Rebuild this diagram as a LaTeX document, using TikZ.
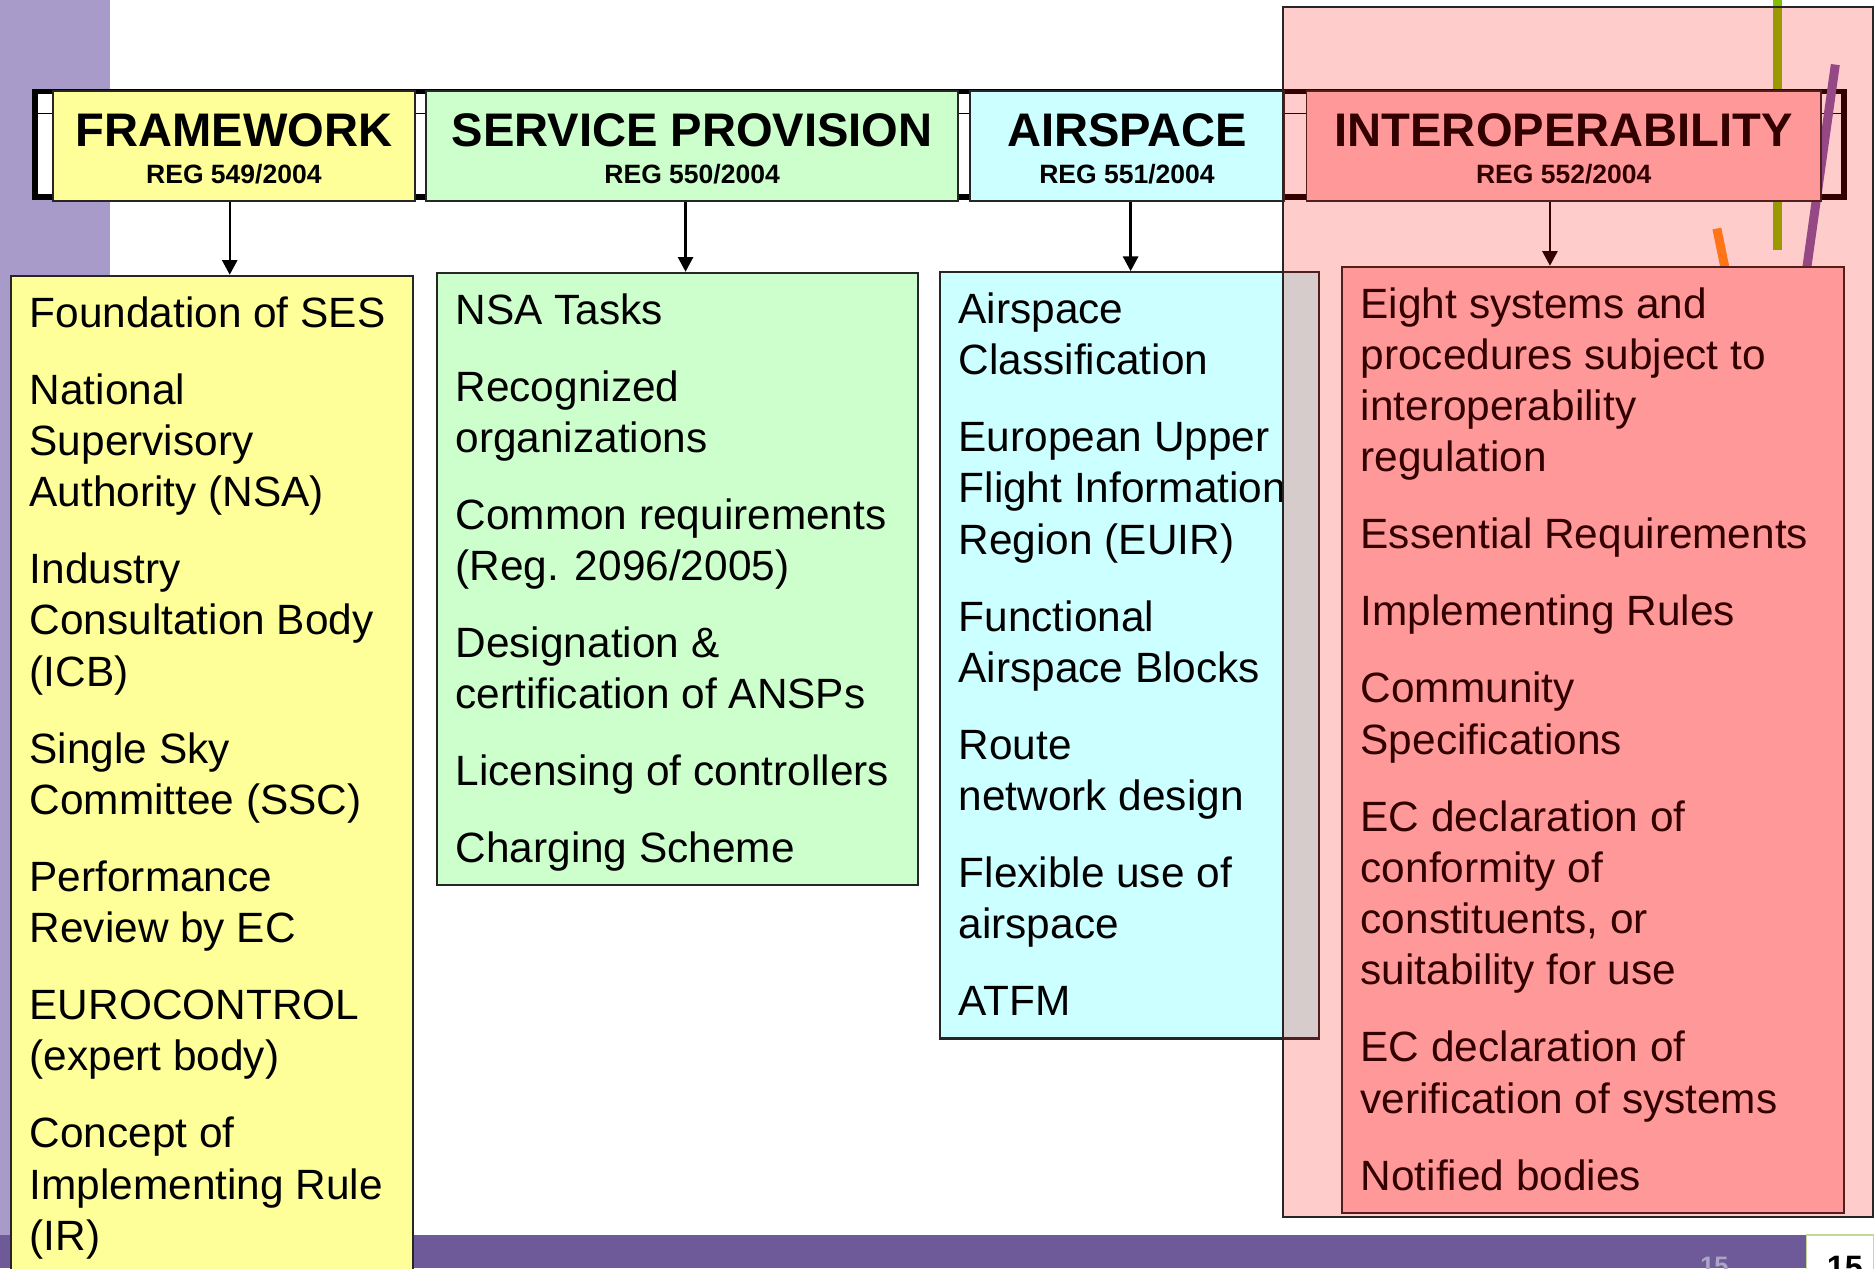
\documentclass[tikz,border=0pt]{standalone}
\usepackage{fontspec}
\setmainfont{Liberation Sans}
\usepackage{xcolor}
\usepackage{tikz}
\usetikzlibrary{arrows.meta,positioning,fit}
\definecolor{slidelilac}{HTML}{A99BC9}
\definecolor{slidebar}{HTML}{6F5A99}
\definecolor{barnumber}{HTML}{ABA6C4}
\definecolor{pageframe}{HTML}{C4D89A}
\definecolor{fwyellow}{HTML}{FFFF99}
\definecolor{spgreen}{HTML}{CCFFCC}
\definecolor{ascyan}{HTML}{CCFFFF}
\definecolor{iopink}{HTML}{FFC0C0}
\definecolor{accentgreen}{HTML}{84BE00}
\definecolor{accentpurple}{HTML}{7B5AA6}
\definecolor{accentorange}{HTML}{FF9020}
\newcommand{\regno}[1]{{\fontsize{6.3pt}{8.9pt}\selectfont #1}}
\newcommand{\itemgap}{\\[6.1pt]}
\tikzset{
  headbox/.style={
    draw=black!85,
    line width=0.45pt,
    inner sep=0pt
  },
  headtext/.style={
    anchor=north,
    inner xsep=0pt,
    inner ysep=0.19cm,
    align=center,
    font=\fontsize{11.2pt}{8.9pt}\selectfont\bfseries
  },
  listbox/.style={
    draw=black!85,
    line width=0.5pt,
    inner sep=0pt
  },
  items/.style={
    anchor=north west,
    align=left,
    inner xsep=0.16cm,
    inner ysep=0.13cm,
    font=\fontsize{10.07pt}{12.19pt}\selectfont
  },
  regframe/.style={
    draw=black,
    fill=white,
    line width=1.4pt,
    inner sep=0pt
  },
  ioshade/.style={
    draw=black!85,
    line width=0.45pt,
    fill=red,
    fill opacity=0.2,
    inner sep=0pt
  },
  accent/.style={line width=0.075cm},
  arrow/.style={-{Triangle[length=3.5pt,width=3.6pt]},line width=0.55pt,draw=black}
}

\begin{document}
\begin{tikzpicture}[x=0.01cm,y=-0.01cm]
  \useasboundingbox (0,0) rectangle (1568,1060);
  \fill[white] (0,0) rectangle (1568,1060);

  % slide background
  \fill[slidelilac] (0,0) rectangle (92,1032);
  \fill[slidebar] (0,1032) rectangle (1510,1060);
  \node[font=\fontsize{6pt}{7pt}\selectfont\bfseries,text=barnumber,anchor=base] (barNo) at (1433,1065) {15};
  \node[draw=pageframe,fill=white,line width=0.4pt,inner sep=0pt,fit={(1510,1032) (1566,1064)}] (pageBox) {};
  \node[font=\fontsize{7.7pt}{9pt}\selectfont\bfseries,anchor=base] (pageNo) at (1542,1069) {15};

  \draw[accent,accentgreen] (1486,-2) -- (1486,209);
  \draw[accent,accentorange] (1435,191) -- (1442,225);

  \node[regframe,fit={(29.5,76.5) (1541.5,164.5)}] (regFrame) {};
  \draw[line width=0.3pt] (31,95) -- (1539,95);
  \draw[accent,accentpurple] (1534,54) -- (1510,225);

  \node[headbox,fill=fwyellow,fit={(44,76) (347,168)}] (fwHead) {};
  \node[headbox,fill=spgreen,fit={(356,76) (801,168)}] (spHead) {};
  \node[headbox,fill=ascyan,fit={(811,76) (1073,168)}] (asHead) {};
  \node[headbox,fill=iopink,fit={(1092,76) (1522,168)}] (ioHead) {};
  \node[headtext] (fwTitle) at (fwHead.north) {FRAMEWORK\\\regno{REG 549/2004}};
  \node[headtext] (spTitle) at (spHead.north) {SERVICE PROVISION\\\regno{REG 550/2004}};
  \node[headtext] (asTitle) at (asHead.north) {AIRSPACE\\\regno{REG 551/2004}};
  \node[headtext] (ioTitle) at (ioHead.north) {INTEROPERABILITY\\\regno{REG 552/2004}};

  \node[listbox,fill=fwyellow,fit={(9,230.5) (345,1080)}] (fwBody) {};
  \node[items] (fwList) at (fwBody.north west) {
    \strut Foundation of SES\itemgap
    National\\Supervisory\\Authority (NSA)\itemgap
    Industry\\Consultation Body\\(ICB)\itemgap
    Single Sky\\Committee (SSC)\itemgap
    Performance\\Review by EC\itemgap
    EUROCONTROL\\(expert body)\itemgap
    Concept of\\Implementing Rule\\(IR)
  };

  \node[listbox,fill=spgreen,fit={(365,228) (767,740)}] (spBody) {};
  \node[items] (spList) at (spBody.north west) {
    \strut NSA Tasks\itemgap
    Recognized\\organizations\itemgap
    Common requirements\\(Reg. 2096/2005)\itemgap
    Designation \&\\certification of ANSPs\itemgap
    Licensing of controllers\itemgap
    Charging Scheme
  };

  \node[listbox,fill=ascyan,fit={(785.5,227.5) (1102.5,868)}] (asBody) {};
  \node[items] (asList) at (asBody.north west) {
    \strut Airspace\\Classification\itemgap
    European Upper\\Flight Information\\Region (EUIR)\itemgap
    Functional\\Airspace Blocks\itemgap
    Route\\network design\itemgap
    Flexible use of\\airspace\itemgap
    ATFM
  };

  \node[listbox,fill=iopink,fit={(1121.5,223) (1541,1014)}] (ioBody) {};
  \node[items] (ioList) at (ioBody.north west) {
    \strut Eight systems and\\procedures subject to\\interoperability\\regulation\itemgap
    Essential Requirements\itemgap
    Implementing Rules\itemgap
    Community\\Specifications\itemgap
    EC declaration of\\conformity of\\constituents, or\\suitability for use\itemgap
    EC declaration of\\verification of systems\itemgap
    Notified bodies
  };

  \path (fwHead.south) ++(-3.5,0) coordinate (fwFoot);
  \path (spHead.south) ++(-5.5,0) coordinate (spFoot);
  \path (asHead.south) ++(3,0) coordinate (asFoot);
  \path (ioHead.south) ++(-11.5,0) coordinate (ioFoot);
  \draw[arrow] (fwFoot) -- (fwFoot |- fwBody.north);
  \draw[arrow] (spFoot) -- (spFoot |- spBody.north);
  \draw[arrow] (asFoot) -- (asFoot |- asBody.north);
  \draw[arrow] (ioFoot) -- (ioFoot |- ioBody.north);

  \node[ioshade,fit={(1072.5,6) (1565.5,1017)}] (ioZone) {};
\end{tikzpicture}
\end{document}
